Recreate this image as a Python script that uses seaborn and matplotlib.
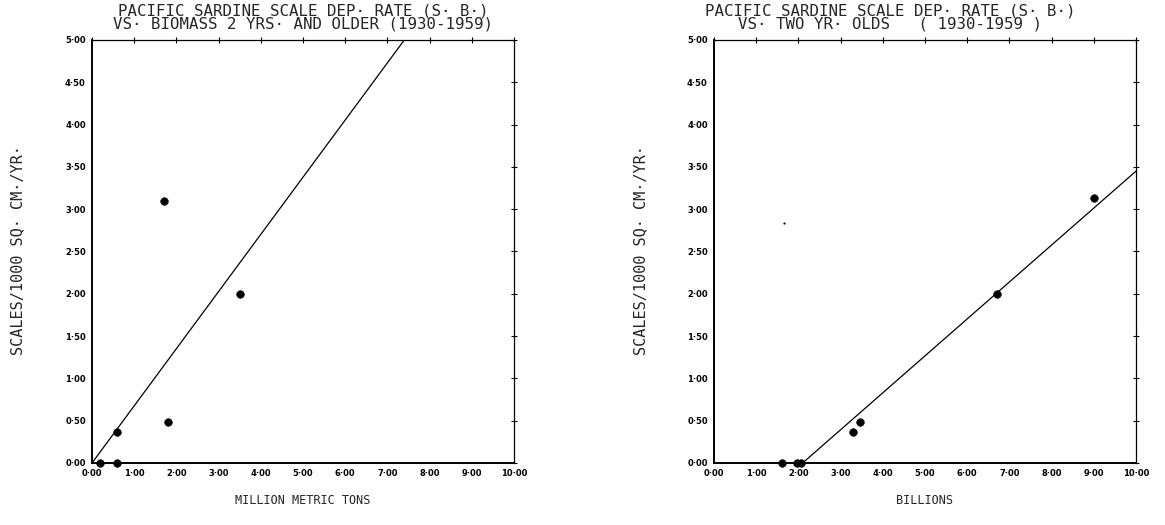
import matplotlib
matplotlib.use("Agg")
import matplotlib.pyplot as plt
import seaborn as sns
import numpy as np
import pandas as pd

sns.set_style("white")
plt.rcParams['font.family'] = ['DejaVu Sans']

# ---- data ----
left_x = [0.2, 0.6, 0.6, 1.8, 1.7, 3.5]
left_y = [0.0, 0.0, 0.37, 0.48, 3.1, 2.0]
left_fit_x = [0.0, 7.4]
left_fit_y = [0.0, 5.0]

right_x = [1.6, 1.97, 2.05, 3.3, 3.45, 6.7, 9.0]
right_y = [0.0, 0.0, 0.0, 0.37, 0.48, 2.0, 3.13]
right_fit_x = [2.1, 10.0]
right_fit_y = [0.0, 3.45]
right_speck_x = [1.65]
right_speck_y = [2.84]

x_ticks = [0, 1, 2, 3, 4, 5, 6, 7, 8, 9, 10]
y_ticks = [0.0, 0.5, 1.0, 1.5, 2.0, 2.5, 3.0, 3.5, 4.0, 4.5, 5.0]

left_title = ["PACIFIC SARDINE SCALE DEP\u00b7 RATE (S\u00b7 B\u00b7)",
              "VS\u00b7 BIOMASS 2 YRS\u00b7 AND OLDER (1930-1959)"]
right_title = ["PACIFIC SARDINE SCALE DEP\u00b7 RATE (S\u00b7 B\u00b7)",
               "VS\u00b7 TWO YR\u00b7 OLDS   ( 1930-1959 )"]
y_label = "SCALES/1000 SQ\u00b7 CM\u00b7/YR\u00b7"
left_xlabel = "MILLION METRIC TONS"
right_xlabel = "BILLIONS"

W, H = 1165, 525
fig = plt.figure(figsize=(W / 100, H / 100), dpi=100)
fig.patch.set_facecolor("white")
MONO = 'DejaVu Sans Mono'

def fmt(v):
    return f"{v:.2f}".replace(".", "\u00b7")

def make_ax(x0, x1, y0, y1):
    return fig.add_axes([x0 / W, (H - y1) / H, (x1 - x0) / W, (y1 - y0) / H])

def style(ax, title, title_cx, xlabel, xlabel_cx, ylabel_x):
    ax.set_xlim(0, 10)
    ax.set_ylim(0, 5)
    ax.set_xticks(x_ticks)
    ax.set_yticks(y_ticks)
    ax.set_xticklabels([fmt(v) for v in x_ticks], fontsize=6, fontweight='bold')
    ax.set_yticklabels([fmt(v) for v in y_ticks], fontsize=6, fontweight='bold')
    ax.tick_params(axis='both', direction='inout', length=5, width=0.8,
                   top=True, right=True, pad=2, colors='black')
    for s in ['left', 'bottom']:
        ax.spines[s].set_linewidth(1.4)
        ax.spines[s].set_color('black')
    for s in ['top', 'right']:
        ax.spines[s].set_linewidth(0.9)
        ax.spines[s].set_color('black')
    ax.set_xlabel("")
    ax.set_ylabel("")
    ax.set_facecolor('white')
    fig.text(title_cx / W, 1 - 11 / H, title[0], fontsize=11.3, fontfamily=MONO,
             ha='center', va='center')
    fig.text(title_cx / W, 1 - 24 / H, title[1], fontsize=11.3, fontfamily=MONO,
             ha='center', va='center')
    fig.text(xlabel_cx / W, 1 - 501 / H, xlabel, fontsize=8.6, fontfamily=MONO,
             ha='center', va='center')
    fig.text(ylabel_x / W, 1 - 250 / H, y_label, fontsize=11, fontfamily=MONO,
             ha='center', va='center', rotation=90)

ax1 = make_ax(92, 514, 40, 463)
ax2 = make_ax(714, 1136, 40, 463)

df1 = pd.DataFrame({"x": left_x, "y": left_y})
sns.scatterplot(data=df1, x="x", y="y", ax=ax1, color="black", s=30,
                edgecolor="black", clip_on=False, zorder=5)
sns.lineplot(x=left_fit_x, y=left_fit_y, ax=ax1, color="black", linewidth=0.9)

df2 = pd.DataFrame({"x": right_x, "y": right_y})
sns.scatterplot(data=df2, x="x", y="y", ax=ax2, color="black", s=30,
                edgecolor="black", clip_on=False, zorder=5)
sns.scatterplot(x=right_speck_x, y=right_speck_y, ax=ax2, color="black", s=2,
                edgecolor="black")
sns.lineplot(x=right_fit_x, y=right_fit_y, ax=ax2, color="black", linewidth=0.9)

style(ax1, left_title, 303, left_xlabel, 303, 18)
style(ax2, right_title, 890, right_xlabel, 925, 641)

fig.savefig("out.png", dpi=100, facecolor="white")
